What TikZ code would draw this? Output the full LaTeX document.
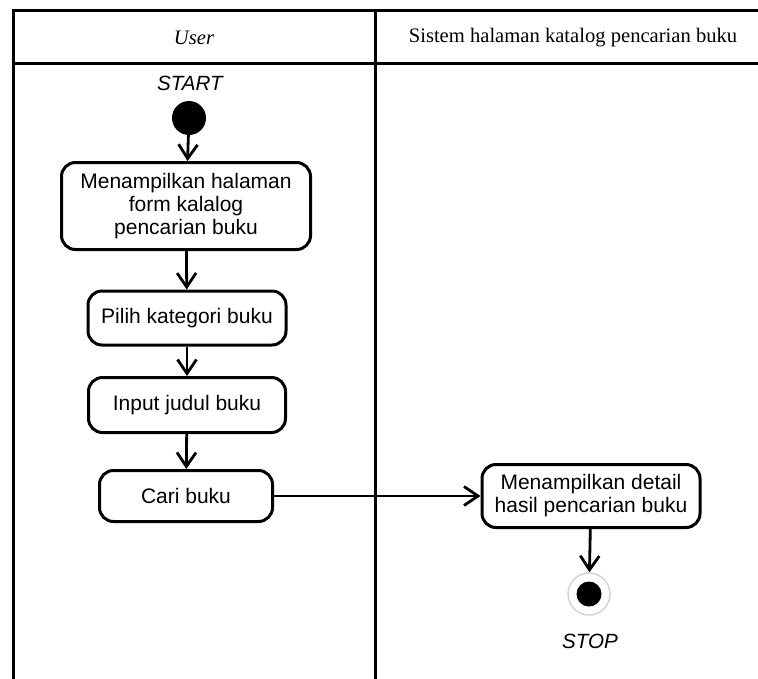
\documentclass[tikz,border=0pt]{standalone}
\usepackage{fontspec}
\setmainfont{Liberation Serif}
\setsansfont{Liberation Sans}
\usetikzlibrary{arrows.meta}
\begin{document}
\begin{tikzpicture}[x=1pt,y=-1pt,
  lane/.style={line width=3pt, line cap=rect},
  act/.style={draw, line width=3pt, rounded corners=14pt, fill=white,
    font=\sffamily\fontsize{21}{23}\selectfont, align=center, inner sep=0pt},
  flow/.style={line width=2.8pt, -{Straight Barb[length=14pt,width=19pt,line width=2.8pt]}},
  lanetitle/.style={font=\fontsize{20.6}{23}\selectfont},
  caption/.style={font=\sffamily\itshape\fontsize{20.6}{23}\selectfont}]
  \useasboundingbox (0,0) rectangle (758,678);

  % swimlane frame
  \draw[lane] (780,10) -- (13,10) -- (13,690);
  \draw[lane] (13,63) -- (780,63);
  \draw[lane] (375,10) -- (375,690);
  \node[lanetitle] (laneU) at (194,38) {\itshape User};
  \node[lanetitle] (laneS) at (573,38) {Sistem halaman katalog pencarian buku};

  % initial node
  \node[caption] (startlbl) at (190,83) {START};
  \node[circle, fill=black, minimum size=34pt, inner sep=0pt] (start) at (189,118) {};

  % activities
  \node[act, minimum width=249pt, minimum height=87pt] (b1) at (186,206)
    {Menampilkan halaman\\form kalalog\\pencarian buku};
  \node[act, minimum width=198pt, minimum height=54pt] (b2) at (187,318) {Pilih kategori buku};
  \node[act, minimum width=197pt, minimum height=55pt] (b3) at (187,405) {Input judul buku};
  \node[act, minimum width=173pt, minimum height=51pt] (b4) at (186,496) {Cari buku};
  \node[act, minimum width=218pt, minimum height=63pt] (b5) at (591,496)
    {Menampilkan detail\\hasil pencarian buku};

  % final node
  \node[circle, draw=black!18, line width=1.4pt, fill=white, minimum size=42pt, inner sep=0pt] (stop) at (589,594) {};
  \node[circle, fill=black, minimum size=25pt, inner sep=0pt] (stopdot) at (stop.center) {};
  \node[caption] (stoplbl) at (590,641) {STOP};

  % control flow
  \draw[flow] (start) -- (b1);
  \draw[flow] (b1) -- (b2);
  \draw[flow] (b2) -- (b3);
  \draw[flow] (b3) -- (b4);
  \draw[flow] (b4) -- (b5);
  \draw[flow] (b5) -- (stop);
\end{tikzpicture}
\end{document}
